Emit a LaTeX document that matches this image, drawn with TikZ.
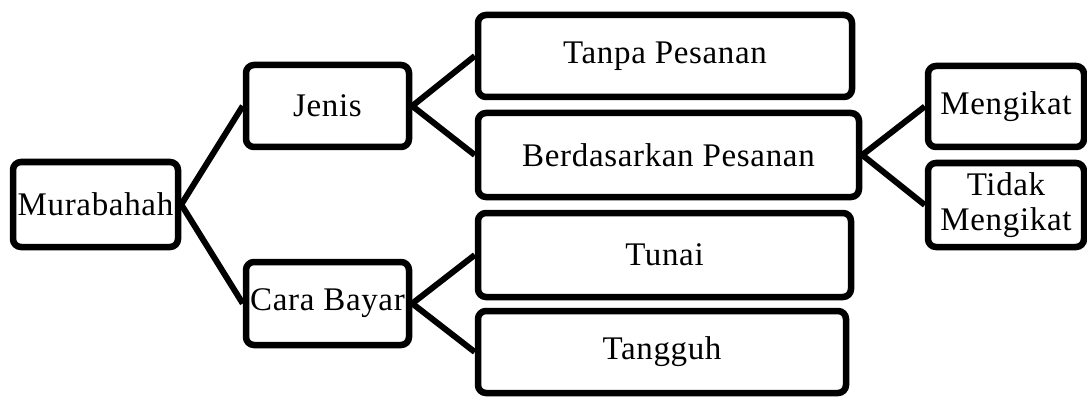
\documentclass[tikz,border=0pt]{standalone}
\usepackage{fontspec}
\setmainfont{Liberation Serif}[LetterSpace=2]
\begin{document}
\begin{tikzpicture}[x=1pt,y=1pt,
  box/.style={draw=black, line width=6.5pt, rounded corners=8pt, inner sep=0pt,
    align=center, font=\fontsize{33}{35}\selectfont, fill=white},
  link/.style={draw=black, line width=6pt}]
\useasboundingbox (0,0) rectangle (1087,397);
\node[box, minimum width=165pt, minimum height=85pt] (mur) at (95.5,192.5) {Murabahah};
\node[box, minimum width=163pt, minimum height=82pt] (jen) at (327.5,291) {Jenis};
\node[box, minimum width=163pt, minimum height=83pt] (car) at (327.5,93.5) {Cara Bayar};
\node[box, minimum width=374pt, minimum height=82pt] (tan) at (665,341) {Tanpa Pesanan};
\node[box, minimum width=381pt, minimum height=84pt] (ber) at (668.5,242) {Berdasarkan Pesanan};
\node[box, minimum width=373pt, minimum height=84pt] (tun) at (664.5,142) {Tunai};
\node[box, minimum width=368pt, minimum height=82pt] (tag) at (662,45) {Tangguh};
\node[box, minimum width=156pt, minimum height=81pt] (men) at (1006,290.5) {Mengikat};
\node[box, minimum width=156pt, minimum height=84pt] (tid) at (1006,192) {Tidak\\Mengikat};
\draw[link] (mur.east) -- (jen.west);
\draw[link] (mur.east) -- (car.west);
\draw[link] (jen.east) -- (tan.west);
\draw[link] (jen.east) -- (ber.west);
\draw[link] (car.east) -- (tun.west);
\draw[link] (car.east) -- (tag.west);
\draw[link] (ber.east) -- (men.west);
\draw[link] (ber.east) -- (tid.west);
\end{tikzpicture}
\end{document}
